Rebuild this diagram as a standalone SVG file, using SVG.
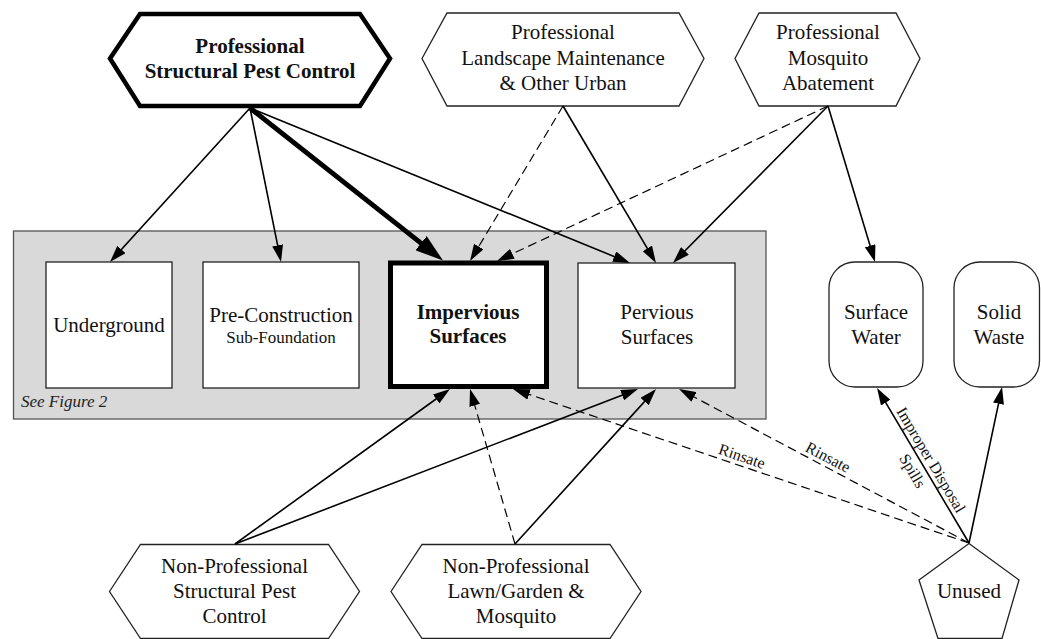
<svg xmlns="http://www.w3.org/2000/svg" width="1041" height="639" viewBox="0 0 1041 639" font-family="'Liberation Serif', 'DejaVu Serif', serif">
  <defs>
    <style>
      text { font-family: 'Liberation Serif', 'DejaVu Serif', serif; fill: #111; }
      .node { font-size: 21px; text-anchor: middle; }
      .bold { font-weight: bold; }
      .small { font-size: 17px; text-anchor: middle; }
      .lbl { font-size: 16px; text-anchor: middle; }
      .note { font-size: 17px; font-style: italic; fill: #222; }
      .shape { fill: #fff; stroke: #222; stroke-width: 1.3; }
      .heavy { fill: #fff; stroke: #000; stroke-width: 4.5; stroke-linejoin: miter; }
      .group { fill: #d9d9d9; stroke: #555; stroke-width: 1.3; }
      .edge { fill: none; stroke: #000; stroke-width: 1.6; marker-end: url(#ah); }
      .dash { fill: none; stroke: #000; stroke-width: 1.2; stroke-dasharray: 9 5; marker-end: url(#ah); }
      .thick { fill: none; stroke: #000; stroke-width: 5; marker-end: url(#ahBig); }
    </style>
    <marker id="ah" viewBox="0 0 17 11" refX="11" refY="5.5" markerWidth="17" markerHeight="11" markerUnits="userSpaceOnUse" orient="auto">
      <path d="M0,0 L17,5.5 L0,11 z" fill="#000"/>
    </marker>
    <marker id="ahBig" viewBox="0 0 28 18" refX="16" refY="9" markerWidth="28" markerHeight="18" markerUnits="userSpaceOnUse" orient="auto">
      <path d="M0,0 L28,9 L0,18 z" fill="#000"/>
    </marker>
  </defs>

  <rect width="1041" height="639" fill="#fff"/>

  <!-- grouping panel for the indoor/outdoor use sites -->
  <g id="site-panel">
    <rect class="group" x="13.5" y="231" width="752.5" height="188"/>
    <text class="note" x="21" y="407">See Figure 2</text>
  </g>

  <!-- use sites -->
  <g id="underground">
    <rect class="shape" x="46" y="262" width="126" height="126"/>
    <text class="node" x="109" y="332">Underground</text>
  </g>
  <g id="pre-construction">
    <rect class="shape" x="203" y="262" width="156" height="126"/>
    <text class="node" x="281" y="322">Pre-Construction</text>
    <text class="small" x="281" y="343">Sub-Foundation</text>
  </g>
  <g id="impervious">
    <rect x="390.5" y="263" width="156" height="123.5" fill="#fff" stroke="#000" stroke-width="5"/>
    <text class="node bold" x="468" y="319">Impervious</text>
    <text class="node bold" x="468" y="343">Surfaces</text>
  </g>
  <g id="pervious">
    <rect class="shape" x="578" y="263" width="157" height="125"/>
    <text class="node" x="657" y="319">Pervious</text>
    <text class="node" x="657" y="344">Surfaces</text>
  </g>

  <!-- receiving sinks -->
  <g id="surface-water">
    <rect class="shape" x="829" y="262" width="94" height="125" rx="26" ry="26"/>
    <text class="node" x="876" y="319">Surface</text>
    <text class="node" x="876" y="344">Water</text>
  </g>
  <g id="solid-waste">
    <rect class="shape" x="954" y="262" width="85.5" height="125" rx="26" ry="26"/>
    <text class="node" x="999" y="319">Solid</text>
    <text class="node" x="999" y="344">Waste</text>
  </g>

  <!-- professional sources -->
  <g id="prof-structural">
    <polygon class="heavy" points="110,58.5 140,14 360,14 390,58.5 360,106 140,106"/>
    <text class="node bold" x="250" y="53">Professional</text>
    <text class="node bold" x="250" y="78">Structural Pest Control</text>
  </g>
  <g id="prof-landscape">
    <polygon class="shape" points="422,58.5 447,13 679,13 704,58.5 679,106 447,106"/>
    <text class="node" x="563" y="39">Professional</text>
    <text class="node" x="563" y="65">Landscape Maintenance</text>
    <text class="node" x="563" y="90">&amp; Other Urban</text>
  </g>
  <g id="prof-mosquito">
    <polygon class="shape" points="735,58.5 759,13 896,13 920,58.5 896,106 759,106"/>
    <text class="node" x="828" y="39">Professional</text>
    <text class="node" x="828" y="65">Mosquito</text>
    <text class="node" x="828" y="90">Abatement</text>
  </g>

  <!-- non-professional sources -->
  <g id="nonprof-structural">
    <polygon class="shape" points="109.5,591.5 140.5,544.5 328.5,544.5 359.5,591.5 328.5,638.5 140.5,638.5"/>
    <text class="node" x="234.5" y="573">Non-Professional</text>
    <text class="node" x="234.5" y="598">Structural Pest</text>
    <text class="node" x="234.5" y="623">Control</text>
  </g>
  <g id="nonprof-lawn">
    <polygon class="shape" points="391,591.5 422,544.5 610,544.5 641,591.5 610,638.5 422,638.5"/>
    <text class="node" x="516" y="573">Non-Professional</text>
    <text class="node" x="516" y="598">Lawn/Garden &amp;</text>
    <text class="node" x="516" y="623">Mosquito</text>
  </g>
  <g id="unused">
    <polygon class="shape" points="969,543.5 1019,580 1002,638.5 938,638.5 919,580"/>
    <text class="node" x="969" y="598">Unused</text>
  </g>

  <!-- connectors -->
  <g id="connectors">
    <path class="edge" d="M250,108 L114,257.6"/>
    <path class="edge" d="M250,108 L279.8,256.1"/>
    <path class="thick" d="M250,108 L433.6,253.1"/>
    <path class="edge" d="M250,108 L624.4,260.7"/>

    <path class="dash" d="M563,106 L473.1,255.9"/>
    <path class="edge" d="M563,106 L652.9,257.8"/>

    <path class="dash" d="M828,106 L502.4,258.5"/>
    <path class="edge" d="M828,106 L677.2,258.7"/>
    <path class="edge" d="M828,106 L873.3,256.3"/>

    <path class="edge" d="M235,544 L445.1,392.5"/>
    <path class="edge" d="M235,544 L632.4,391.2"/>

    <path class="dash" d="M515,544 L471.7,394.8"/>
    <path class="edge" d="M515,544 L652,393.4"/>

    <path class="dash" d="M969,543 L518.7,390.9"/>
    <path class="dash" d="M969,543 L684.3,391.8"/>
    <path class="edge" d="M969,543 L880.1,393.2"/>
    <path class="edge" d="M969,543 L1000.8,392.9"/>

    <!-- connector labels -->
    <text class="lbl" transform="translate(738.9,465.3) rotate(18.66)" y="-4.3">Rinsate</text>
    <text class="lbl" transform="translate(823.5,465.7) rotate(27.97)" y="-4.3">Rinsate</text>
    <g transform="translate(922.6,464.9) rotate(59.3)">
      <text class="lbl" y="-4.5">Improper Disposal</text>
      <text class="lbl" y="17">Spills</text>
    </g>
  </g>
</svg>
